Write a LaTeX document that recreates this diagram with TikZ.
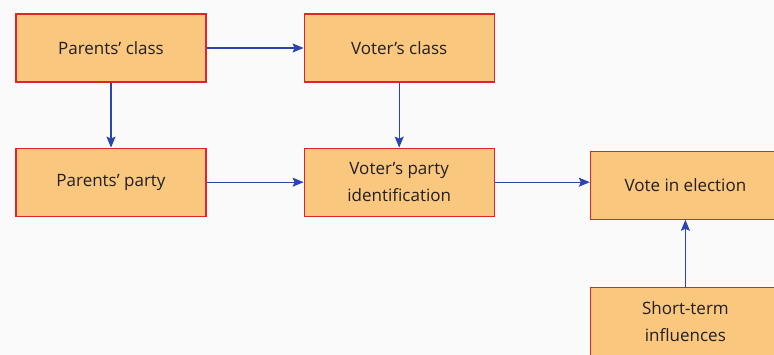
\documentclass[tikz,border=0pt]{standalone}
\usepackage{fontspec}
\setmainfont{Open Sans}
\usepackage{tikz}
\usetikzlibrary{arrows.meta,positioning}
\definecolor{votebox}{HTML}{F9C77E}
\definecolor{voteedge}{HTML}{E0242A}
\definecolor{votearrow}{HTML}{2A45B0}
\definecolor{votetext}{HTML}{231F20}
\definecolor{votepage}{HTML}{FAFAFA}

\begin{document}
\begin{tikzpicture}[
    node distance=65pt and 97pt,
    box/.style={draw=voteedge, line width=1.2pt, fill=votebox, text=votetext,
                minimum width=190pt, minimum height=68pt, align=center,
                font=\fontsize{17}{27}\selectfont, inner sep=2pt},
    arr/.style={-{Stealth[length=11pt, width=9pt, inset=2pt]}, line width=1.1pt, color=votearrow}
  ]
  \clip (0,0) rectangle (774pt,-355pt);
  \fill[votepage] (0,0) rectangle (774pt,-355pt);
  \node[box] (pc) at (111pt,-48pt) {Parents' class};
  \node[box, right=of pc] (vc) {Voter's class};
  \node[box, below=of pc] (pp) {Parents' party};
  \node[box, right=of pp] (vp) {Voter's party\\identification};
  \node[box, right=95pt of vp, yshift=-3pt] (ve) {Vote in election};
  \node[box, below=67pt of ve] (st) {Short-term\\influences};
  \draw[arr] (pc) -- (vc);
  \draw[arr] (pc) -- (pp);
  \draw[arr] (vc) -- (vp);
  \draw[arr] (pp) -- (vp);
  \draw[arr] (vp.east) -- (ve.west |- vp.east);
  \draw[arr] (st) -- (ve);
\end{tikzpicture}
\end{document}
